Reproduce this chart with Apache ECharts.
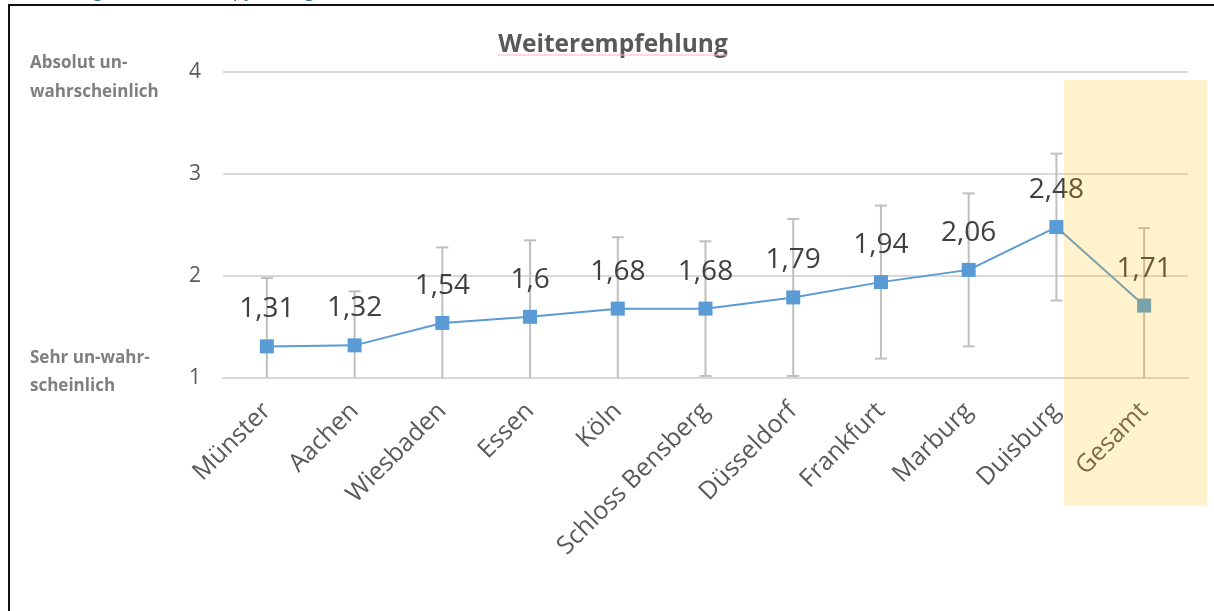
<!DOCTYPE html>
<html>
<head>
<meta charset="utf-8">
<script src="https://cdn.jsdelivr.net/npm/echarts@6/dist/echarts.min.js"></script>
<style>
html,body{margin:0;padding:0;background:#fff;}
#chart{width:1214px;height:611px;}
</style>
</head>
<body>
<div id="chart"></div>
<script>
const categories = ['Münster','Aachen','Wiesbaden','Essen','Köln','Schloss Bensberg','Düsseldorf','Frankfurt','Marburg','Duisburg','Gesamt'];
const meanValues = [1.31,1.32,1.54,1.6,1.68,1.68,1.79,1.94,2.06,2.48,1.71];
const errLow  = [0.64,0.79,0.80,0.85,0.98,1.02,1.02,1.19,1.31,1.76,0.95];
const errHigh = [1.98,1.85,2.28,2.35,2.38,2.34,2.56,2.69,2.81,3.20,2.47];
const yTicks = [1,2,3,4];
const yMin = 1, yMax = 4;

const FONT = "'Open Sans', 'Noto Sans', sans-serif";
const chart = echarts.init(document.getElementById('chart'));

const errData = categories.map((c, i) => [i, errLow[i], errHigh[i]]);

chart.setOption({
  animation: false,
  backgroundColor: '#ffffff',
  grid: { left: 223, right: 26, top: 72, bottom: 233 },
  xAxis: {
    type: 'category',
    data: categories,
    boundaryGap: true,
    axisLine: { show: true, lineStyle: { color: '#d9d9d9', width: 2 } },
    axisTick: { show: false },
    axisLabel: { rotate: 45, margin: 29, fontSize: 25, color: '#595959', fontFamily: FONT, interval: 0 }
  },
  yAxis: {
    type: 'value',
    min: yMin, max: yMax, interval: 1,
    axisLine: { show: false },
    axisTick: { show: false },
    splitLine: { show: true, lineStyle: { color: '#d9d9d9', width: 2 } },
    axisLabel: {
      margin: 22, fontSize: 21, color: '#595959', fontFamily: FONT,
      formatter: v => yTicks.includes(v) ? String(v) : ''
    }
  },
  series: [
    {
      type: 'custom',
      z: 1,
      data: errData,
      renderItem: function (params, api) {
        const i = api.value(0);
        const lo = api.value(1), hi = api.value(2);
        const loC = Math.max(lo, yMin), hiC = Math.min(hi, yMax);
        const pLo = api.coord([i, loC]);
        const pHi = api.coord([i, hiC]);
        const style = { stroke: '#bfbfbf', lineWidth: 2 };
        const children = [
          { type: 'line', shape: { x1: pLo[0], y1: pLo[1], x2: pHi[0], y2: pHi[1] }, style: style }
        ];
        const cw = 6;
        if (hi <= yMax) children.push({ type: 'line', shape: { x1: pHi[0]-cw, y1: pHi[1], x2: pHi[0]+cw, y2: pHi[1] }, style: style });
        if (lo >= yMin) children.push({ type: 'line', shape: { x1: pLo[0]-cw, y1: pLo[1], x2: pLo[0]+cw, y2: pLo[1] }, style: style });
        return { type: 'group', children: children };
      }
    },
    {
      type: 'line',
      z: 3,
      data: meanValues,
      symbol: 'rect',
      symbolSize: 14,
      lineStyle: { color: '#5b9bd5', width: 2 },
      itemStyle: { color: '#5b9bd5' },
      label: {
        show: true, position: 'top', distance: 16,
        fontSize: 28, color: '#404040', fontFamily: FONT,
        formatter: p => String(p.value).replace('.', ',')
      }
    }
  ],
  graphic: {
    elements: [
      { type: 'text', x: 613, y: 45, z: 50,
        style: { text: 'Weiterempfehlung', fontSize: 24.5, fontWeight: 'bold', fill: '#595959', fontFamily: FONT, align: 'center', verticalAlign: 'middle' } },
      { type: 'line', z: 50, shape: { x1: 498, y1: 55, x2: 728, y2: 55 }, style: { stroke: '#f4b5b5', lineWidth: 1 } },
      { type: 'text', x: 30, y: 49, z: 50,
        style: { text: 'Absolut un-\nwahrscheinlich', fontSize: 17, fontWeight: 'bold', fill: '#7f7f7f', fontFamily: FONT, lineHeight: 29 } },
      { type: 'text', x: 30, y: 344, z: 50,
        style: { text: 'Sehr un-wahr-\nscheinlich', fontSize: 17, fontWeight: 'bold', fill: '#7f7f7f', fontFamily: FONT, lineHeight: 28 } },
      { type: 'text', x: 6, y: 1, z: 50,
        style: { text: 'Bewertung der Weiterempfehlung', fontSize: 21, fontStyle: 'italic', fill: '#2f6f7e', fontFamily: FONT, verticalAlign: 'bottom' } },
      { type: 'line', z: 60, shape: { x1: 9, y1: 5, x2: 1214, y2: 5 }, style: { stroke: '#111', lineWidth: 2 } },
      { type: 'line', z: 60, shape: { x1: 9, y1: 4, x2: 9, y2: 611 }, style: { stroke: '#111', lineWidth: 2 } },
      { type: 'rect', z: 100, shape: { x: 1064, y: 80, width: 143, height: 426 }, style: { fill: 'rgba(255,190,0,0.2)' } }
    ]
  }
});
</script>
</body>
</html>
